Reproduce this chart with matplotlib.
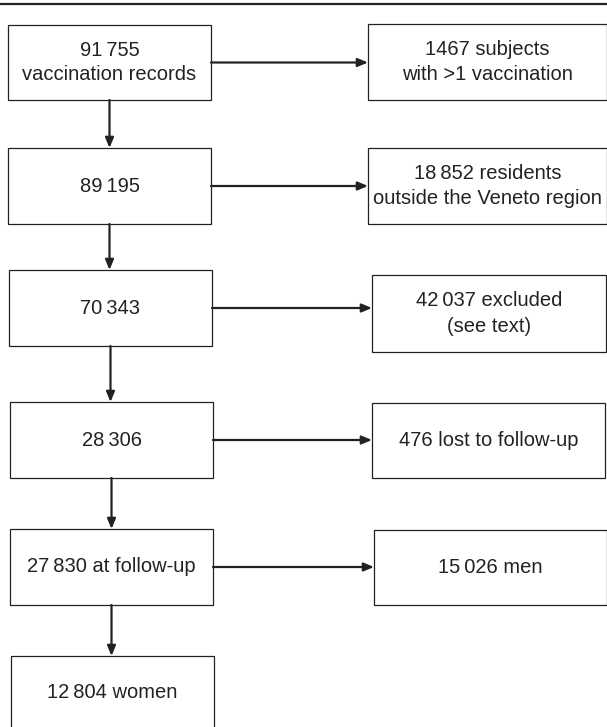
import matplotlib.pyplot as plt
from matplotlib.patches import Rectangle

# Testi del diagramma di flusso
sx = "\u2009"  # spazio sottile nei numeri
testi_sinistra = [
    f"91{sx}755\nvaccination records",
    f"89{sx}195",
    f"70{sx}343",
    f"28{sx}306",
    f"27{sx}830 at follow-up",
    f"12{sx}804 women",
]
testi_destra = [
    "1467 subjects\nwith >1 vaccination",
    f"18{sx}852 residents\noutside the Veneto region",
    f"42{sx}037 excluded\n(see text)",
    "476 lost to follow-up",
    f"15{sx}026 men",
]

# Layout in pixel (x0, y0, x1, y1)
box_sx = [(8, 25, 211, 100), (8, 148, 211, 224), (9, 270, 212, 346),
          (10, 402, 213, 478), (10, 529, 213, 605), (11, 656, 214, 740)]
box_dx = [(368, 24, 607, 100), (368, 148, 607, 224), (372, 275, 606, 352),
          (372, 403, 605, 478), (374, 530, 607, 605)]

W, H = 607, 727
col = "#222222"

fig = plt.figure(figsize=(W / 100, H / 100), dpi=100)
ax = fig.add_axes([0, 0, 1, 1])
ax.set_xlim(0, W)
ax.set_ylim(H, 0)
ax.axis("off")

# linea superiore
ax.plot([0, W], [4, 4], color=col, lw=1.6, solid_capstyle="butt")


def disegna_box(b, testo, dx=0):
    x0, y0, x1, y1 = b
    ax.add_patch(Rectangle((x0, y0), x1 - x0, y1 - y0, fill=False,
                           edgecolor=col, lw=0.9, clip_on=False))
    yc = (y0 + y1) / 2 if y1 < H else y0 + 37
    ax.text((x0 + x1) / 2 + dx, yc, testo, ha="center", va="center",
            fontsize=14.5, color=col, family="Liberation Sans", linespacing=1.4)


for b, t in zip(box_sx, testi_sinistra):
    disegna_box(b, t)
for b, t in zip(box_dx, testi_destra):
    disegna_box(b, t)

freccia = dict(arrowstyle="-|>,head_length=0.6,head_width=0.25", color=col,
               lw=1.6, shrinkA=0, shrinkB=0)

# frecce verticali
for a, b in zip(box_sx[:-1], box_sx[1:]):
    xa = (a[0] + a[2]) / 2
    ax.annotate("", xy=(xa, b[1]), xytext=(xa, a[3]), arrowprops=freccia)

# frecce orizzontali
for a, b in zip(box_sx, box_dx):
    yc = (a[1] + a[3]) / 2
    ax.annotate("", xy=(b[0], yc), xytext=(a[2], yc), arrowprops=freccia)

fig.savefig("out.png", dpi=100)
